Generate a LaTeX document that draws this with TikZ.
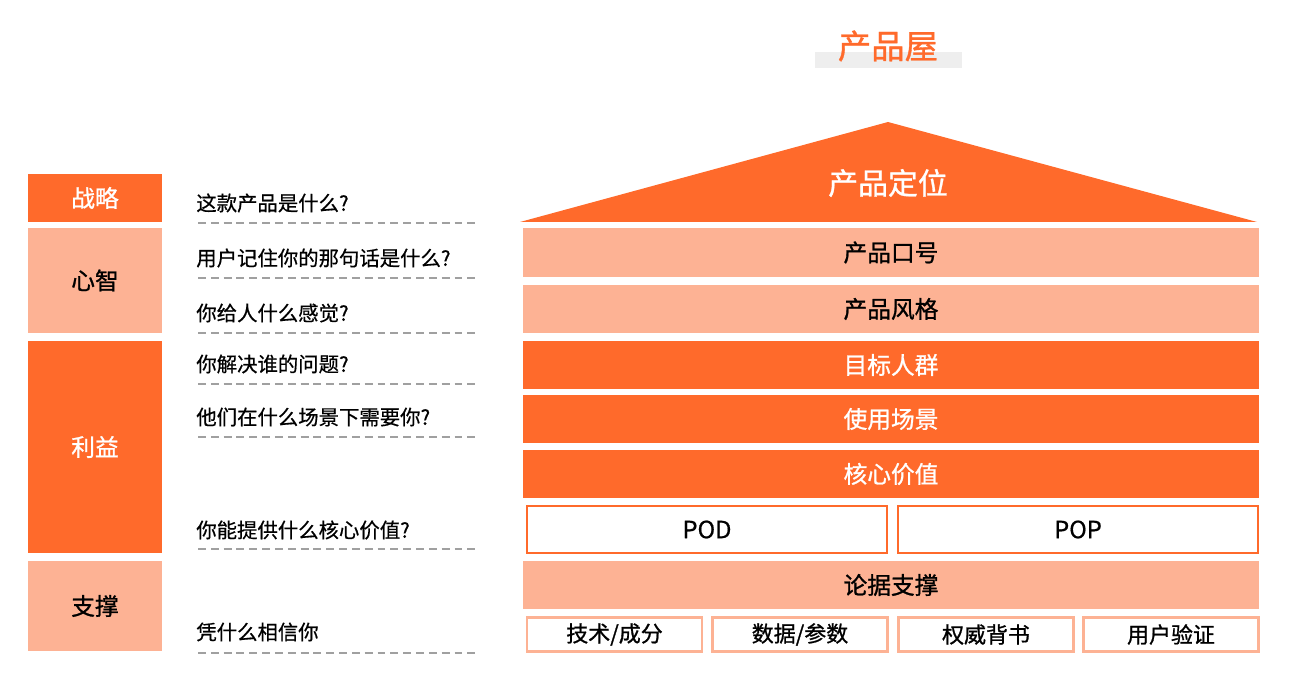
\documentclass[tikz,border=0pt]{standalone}
\usepackage{fontspec}
\setmainfont{Noto Sans CJK SC}[FakeBold=0.6]
\newfontfamily\heavier{Noto Sans CJK SC}[FakeBold=1.0]
\usepackage{tikz}
\definecolor{deep}{HTML}{FF6A2B}
\definecolor{pale}{HTML}{FDB294}
\definecolor{rulegray}{HTML}{A0A0A0}
\definecolor{band}{HTML}{EEEEEE}
\tikzset{
  sized/.style 2 args={minimum width=#1*0.02cm, minimum height=#2*0.02cm},
  deepbox/.style={fill=deep, text=white, inner sep=0pt, font=\heavier\fontsize{13.5}{14}\selectfont},
  palebox/.style={fill=pale, text=black, inner sep=0pt, font=\heavier\fontsize{13.5}{14}\selectfont},
  popbox/.style={draw=deep, line width=1.1pt, fill=white, inner sep=0pt, font=\fontsize{13.5}{14}\selectfont},
  proofbox/.style={draw=pale, line width=1.2pt, fill=white, inner sep=0pt, font=\heavier\fontsize{12.5}{13}\selectfont},
  ask/.style={anchor=west, inner sep=0pt, font=\fontsize{11.6}{12}\selectfont},
  askline/.style={rulegray, line width=0.7pt, dash pattern=on 4.5pt off 2.8pt}
}
\begin{document}
\begin{tikzpicture}[x=0.02cm,y=-0.02cm]
        \useasboundingbox (0,0) rectangle (1300,678);
        % title
        \fill[band] (815,52) rectangle (962,68);
        \node[text=deep, inner sep=0pt, font=\heavier\fontsize{19}{20}\selectfont] (title) at (888,46) {产品屋};
        % left column
        \node[deepbox, sized={134}{48}] (zl) at (95,198) {战略};
        \node[palebox, sized={134}{105}] (xz) at (95,280.5) {心智};
        \node[deepbox, sized={134}{212}] (ly) at (95,447) {利益};
        \node[palebox, sized={134}{90}] (zc) at (95,606) {支撑};
        % questions
        \node[ask] (q1) at (196,203) {这款产品是什么?};
        \node[ask] (q2) at (196,258) {用户记住你的那句话是什么?};
        \node[ask] (q3) at (196,313) {你给人什么感觉?};
        \node[ask] (q4) at (196,364) {你解决谁的问题?};
        \node[ask] (q5) at (196,417) {他们在什么场景下需要你?};
        \node[ask] (q6) at (196,530) {你能提供什么核心价值?};
        \node[ask] (q7) at (196,632) {凭什么相信你};
        \foreach \y in {223,278,333,384,437,549,653}
            \draw[askline] (198,\y) -- (477,\y);
        % house
        \fill[deep] (520,222) -- (888,122) -- (1257,222) -- cycle;
        \node[text=white, inner sep=0pt, font=\heavier\fontsize{17}{18}\selectfont] (dw) at (888,183) {产品定位};
        \node[palebox, sized={736}{49}] (kh) at (891,252.5) {产品口号};
        \node[palebox, sized={736}{48}] (fg) at (891,309) {产品风格};
        \node[deepbox, sized={736}{48}] (rq) at (891,365) {目标人群};
        \node[deepbox, sized={736}{48}] (cj) at (891,419) {使用场景};
        \node[deepbox, sized={736}{48}] (jz) at (891,474) {核心价值};
        \node[popbox, sized={360}{47}] (pod) at (707,529.5) {POD};
        \node[popbox, sized={360}{47}] (pop) at (1078,529.5) {POP};
        \node[palebox, sized={736}{48}] (lj) at (891,585) {论据支撑};
        \node[proofbox, sized={175}{34}] (js) at (614.5,634.5) {技术/成分};
        \node[proofbox, sized={175}{34}] (sj) at (800,634.5) {数据/参数};
        \node[proofbox, sized={175}{34}] (qw) at (986,634.5) {权威背书};
        \node[proofbox, sized={175}{34}] (yz) at (1171,634.5) {用户验证};
\end{tikzpicture}
\end{document}
